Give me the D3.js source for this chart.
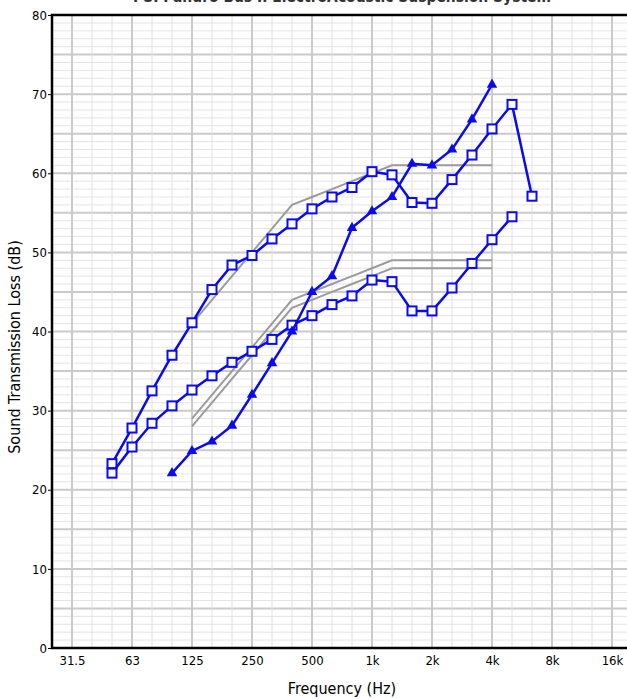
<!DOCTYPE html>
<meta charset="utf-8">
<head>
<script src="https://d3js.org/d3.v7.min.js"></script>
<style>
  body { margin: 0; background: #fff; overflow: hidden; }
  text { font-family: "DejaVu Sans Condensed", "DejaVu Sans", sans-serif; font-stretch: condensed; }
</style>
</head>
<body>
<svg id="chart" width="627" height="699"></svg>
<script>

// third-octave bands, 25 Hz .. 20 kHz
var bands = ["25","31.5","40","50","63","80","100","125","160","200","250","315","400","500",
             "630","800","1k","1.25k","1.6k","2k","2.5k","3.15k","4k","5k","6.3k","8k","10k","12.5k","16k","20k"];
var octaveLabels = ["31.5","63","125","250","500","1k","2k","4k","8k","16k"];
var yTicks = [0,10,20,30,40,50,60,70,80];

// measured curves
var upperBands = ["50","63","80","100","125","160","200","250","315","400","500","630","800","1k","1.25k","1.6k","2k","2.5k","3.15k","4k","5k","6.3k"];
var upperValues = [23.3,27.8,32.5,37.0,41.1,45.3,48.4,49.6,51.7,53.6,55.5,57.0,58.2,60.2,59.8,56.3,56.2,59.2,62.3,65.6,68.7,57.1];

var lowerBands = ["50","63","80","100","125","160","200","250","315","400","500","630","800","1k","1.25k","1.6k","2k","2.5k","3.15k","4k","5k"];
var lowerValues = [22.1,25.4,28.4,30.6,32.6,34.4,36.1,37.5,39.0,40.8,42.0,43.4,44.5,46.5,46.3,42.6,42.6,45.5,48.6,51.6,54.5];

var triBands = ["100","125","160","200","250","315","400","500","630","800","1k","1.25k","1.6k","2k","2.5k","3.15k","4k"];
var triValues = [22.1,24.9,26.1,28.1,32.0,36.0,40.0,45.0,47.0,53.1,55.2,57.0,61.2,61.0,63.0,66.8,71.2];

// STC reference contours
var contourBands = ["125","160","200","250","315","400","500","630","800","1k","1.25k","1.6k","2k","2.5k","3.15k","4k"];
var contour57 = [41,44,47,50,53,56,57,58,59,60,61,61,61,61,61,61];
var contour45 = [29,32,35,38,41,44,45,46,47,48,49,49,49,49,49,49];
var contour44 = [28,31,34,37,40,43,44,45,46,47,48,48,48,48,48,48];

var svg = d3.select("#chart");
var margin = {left: 52, top: 15};
var plotW = 580, plotH = 633;

var x = d3.scaleLinear().domain([0, bands.length - 1]).range([margin.left, margin.left + plotW]);
var y = d3.scaleLinear().domain([0, 80]).range([margin.top + plotH, margin.top]);
var bx = function(b) { return x(bands.indexOf(b)); };
var midX = margin.left + plotW / 2;

var g = svg.append("g");

// grid: 1 dB minor, 5 dB / 10 dB major
g.append("g").selectAll("line").data(d3.range(1, 80)).enter().append("line")
    .attr("x1", x(0)).attr("x2", x(bands.length - 1))
    .attr("y1", d => y(d)).attr("y2", d => y(d))
    .attr("stroke", d => d % 5 == 0 ? "#cacaca" : "#e4e4e4")
    .attr("stroke-width", d => d % 5 == 0 ? 2 : 1);

g.append("g").selectAll("line").data(bands.slice(1)).enter().append("line")
    .attr("x1", d => bx(d)).attr("x2", d => bx(d))
    .attr("y1", y(0)).attr("y2", y(80))
    .attr("stroke", d => octaveLabels.indexOf(d) >= 0 ? "#cacaca" : "#e0e0e0")
    .attr("stroke-width", d => octaveLabels.indexOf(d) >= 0 ? 2 : 1);

// frame
g.append("path")
    .attr("d", "M" + x(bands.length - 1) + "," + y(80) + "H" + x(0) + "V" + y(0) + "H" + x(bands.length - 1))
    .attr("fill", "none").attr("stroke", "#000").attr("stroke-width", 2.5);

// axes
var yAxis = d3.axisLeft(y).tickValues(yTicks).tickSize(4).tickPadding(1);
g.append("g").attr("transform", "translate(" + x(0) + ",0)").call(yAxis)
    .call(a => a.select(".domain").remove())
    .selectAll("text").attr("font-size", 13).attr("fill", "#000");

var xAxis = d3.axisBottom(x).tickValues(octaveLabels.map(l => bands.indexOf(l)))
    .tickFormat(i => bands[i]).tickSize(0).tickPadding(8);
g.append("g").attr("transform", "translate(0," + y(0) + ")").call(xAxis)
    .call(a => a.select(".domain").remove())
    .selectAll("text").attr("font-size", 13).attr("fill", "#000");

// titles
svg.append("text").attr("x", midX).attr("y", 2).attr("text-anchor", "middle")
    .attr("font-size", 15).attr("font-weight", "bold").attr("fill", "#333")
    .attr("textLength", 418).attr("lengthAdjust", "spacingAndGlyphs")
    .text("PSI Panuro Bus II ElectroAcoustic Suspension System");

svg.append("text").attr("x", midX).attr("y", 694).attr("text-anchor", "middle")
    .attr("font-size", 16).attr("fill", "#000").text("Frequency (Hz)");

svg.append("text").attr("transform", "translate(20,347) rotate(-90)").attr("text-anchor", "middle")
    .attr("font-size", 16).attr("fill", "#000").text("Sound Transmission Loss (dB)");

var line = d3.line().x(d => bx(d[0])).y(d => y(d[1]));

// reference contours
[contour57, contour45, contour44].forEach(function(c) {
    g.append("path").datum(d3.zip(contourBands, c)).attr("d", line)
        .attr("fill", "none").attr("stroke", "#9b9b9b").attr("stroke-width", 2);
});

var blue = "#0a0af0";

function drawSeries(bs, vs, marker) {
    var pts = d3.zip(bs, vs);
    g.append("path").datum(pts).attr("d", line)
        .attr("fill", "none").attr("stroke", blue).attr("stroke-width", 2.5);
    if (marker == "square") {
        g.append("g").selectAll("rect").data(pts).enter().append("rect")
            .attr("x", d => bx(d[0]) - 4.5).attr("y", d => y(d[1]) - 4.5)
            .attr("width", 9).attr("height", 9)
            .attr("fill", "#fff").attr("stroke", blue).attr("stroke-width", 2);
    } else {
        g.append("g").selectAll("path").data(pts).enter().append("path")
            .attr("d", d3.symbol().type(d3.symbolTriangle).size(48))
            .attr("transform", d => "translate(" + bx(d[0]) + "," + y(d[1]) + ")")
            .attr("fill", blue);
    }
}

drawSeries(upperBands, upperValues, "square");
drawSeries(lowerBands, lowerValues, "square");
drawSeries(triBands, triValues, "triangle");

</script>
</body>
</html>
